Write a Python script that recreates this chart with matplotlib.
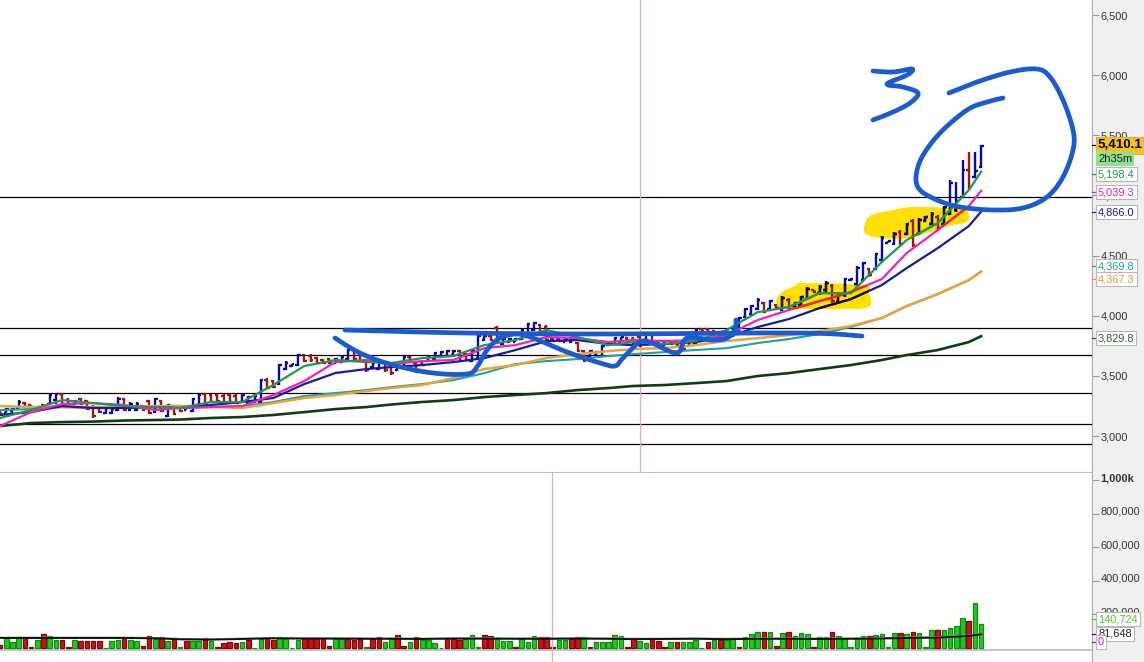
import numpy as np
import matplotlib
matplotlib.use('Agg')
from matplotlib import pyplot as plt
from matplotlib.patches import Polygon, Rectangle
from matplotlib.transforms import Affine2D, ScaledTranslation

plt.rcParams['font.family'] = ['Liberation Sans', 'DejaVu Sans']

# price bars, one entry per bar
bar_high = [3208,3233,3233,3299,3283,3258,3249,3266,3349,3357,3357,3316,3299,3316,3299,3258,3249,3241,3241,3324,
    3316,3283,3283,3258,3299,3316,3299,3266,3258,3258,3249,3316,3349,3357,3349,3349,3349,3349,3349,3349,
    3332,3349,3474,3482,3465,3598,3623,3598,3681,3681,3681,3656,3640,3648,3648,3673,3723,3723,3698,3632,
    3615,3615,3615,3590,3582,3673,3665,3615,3623,3673,3698,3706,3715,3715,3715,3690,3715,3839,3839,3839,
    3914,3814,3814,3814,3897,3939,3947,3931,3922,3814,3814,3814,3814,3781,3715,3715,3706,3756,3789,3823,
    3823,3823,3823,3831,3856,3864,3798,3798,3798,3798,3789,3798,3897,3897,3897,3881,3873,3873,3906,3989,
    4064,4089,4147,4114,4130,4097,4163,4147,4114,4163,4238,4213,4255,4288,4263,4188,4313,4313,4413,4446,
    4396,4521,4662,4620,4695,4712,4770,4803,4812,4828,4862,4837,4911,5127,5111,5294,5360,5360,5418]
bar_low = [3183,3191,3191,3233,3241,3233,3224,3233,3258,3266,3258,3258,3258,3258,3216,3150,3191,3183,3183,3208,
    3208,3208,3208,3208,3183,3191,3199,3158,3175,3199,3216,3199,3249,3249,3274,3283,3266,3274,3266,3274,
    3266,3274,3274,3391,3399,3424,3548,3573,3582,3615,3615,3598,3598,3598,3598,3607,3632,3632,3615,3532,
    3565,3548,3532,3507,3540,3573,3615,3523,3582,3615,3632,3648,3656,3665,3615,3623,3615,3632,3789,3789,
    3773,3756,3773,3781,3798,3814,3873,3839,3789,3781,3781,3781,3773,3698,3615,3648,3665,3656,3748,3756,
    3781,3781,3756,3740,3756,3756,3756,3748,3756,3748,3715,3740,3756,3864,3856,3814,3823,3823,3823,3839,
    3981,4006,4047,4022,4047,4055,4039,4055,4072,4080,4130,4188,4172,4197,4105,4105,4155,4288,4255,4280,
    4321,4379,4446,4604,4587,4587,4670,4571,4670,4778,4753,4712,4753,4837,4862,4978,5044,5144,5227]
bar_open = [3200,3195,3205,3235,3275,3255,3230,3260,3265,3300,3350,3300,3265,3310,3290,3240,3240,3190,3190,3215,
    3310,3215,3220,3250,3290,3200,3290,3170,3250,3250,3220,3210,3255,3350,3340,3340,3335,3340,3335,3280,
    3275,3280,3285,3470,3455,3435,3560,3580,3590,3670,3665,3650,3630,3640,3605,3615,3640,3715,3690,3625,
    3570,3560,3605,3580,3545,3585,3655,3605,3615,3625,3640,3655,3665,3670,3705,3680,3625,3645,3795,3830,
    3900,3765,3780,3785,3805,3825,3885,3920,3910,3810,3805,3785,3780,3770,3705,3655,3670,3665,3755,3765,
    3785,3815,3810,3820,3765,3850,3760,3755,3790,3785,3780,3750,3765,3890,3890,3875,3830,3830,3830,3850,
    3990,4015,4055,4105,4055,4090,4050,4135,4080,4090,4140,4210,4185,4210,4250,4115,4170,4295,4265,4295,
    4385,4390,4460,4606,4600,4700,4680,4790,4680,4785,4765,4825,4765,4850,4875,4990,5210,5155,5240]
bar_close = [3185,3225,3225,3285,3245,3240,3245,3240,3340,3350,3270,3265,3290,3265,3225,3170,3200,3230,3225,3310,
    3215,3270,3270,3215,3190,3305,3210,3255,3185,3210,3245,3305,3340,3260,3285,3290,3275,3285,3275,3340,
    3325,3335,3465,3400,3410,3590,3610,3595,3670,3625,3630,3605,3610,3610,3640,3660,3715,3640,3625,3545,
    3605,3605,3545,3520,3575,3660,3625,3535,3590,3660,3690,3695,3705,3705,3625,3635,3705,3830,3835,3800,
    3785,3805,3810,3810,3885,3930,3940,3850,3800,3790,3790,3810,3810,3710,3625,3705,3700,3745,3785,3815,
    3820,3790,3765,3750,3850,3765,3790,3790,3765,3760,3725,3790,3885,3870,3865,3825,3865,3865,3895,3980,
    4055,4085,4135,4035,4125,4065,4150,4070,4105,4155,4225,4195,4240,4275,4120,4175,4305,4305,4400,4440,
    4335,4510,4650,4618,4680,4600,4760,4585,4800,4820,4850,4725,4900,5100,4950,5210,5060,5200,5410]

# moving averages, read at these bars
ma_bars = [0,5,10,15,20,25,29,34,39,44,49,54,59,63,68,73,78,83,88,93,98,102,107,112,117,122,127,132,137,142,146,151,156,158]
ma_green = [3150,3216,3299,3274,3249,3241,3233,3283,3283,3424,3582,3632,3615,3607,3648,3665,3756,3798,3881,3823,3756,3781,3765,3789,3881,4030,4072,4188,4188,4446,4629,4770,5044,5198]
ma_magenta = [3083,3199,3266,3274,3258,3216,3233,3241,3249,3341,3457,3615,3632,3598,3623,3632,3731,3756,3823,3814,3781,3798,3789,3798,3839,3964,4047,4122,4197,4305,4521,4712,4911,5039]
ma_navy = [3175,3199,3249,3233,3233,3241,3233,3258,3283,3316,3432,3524,3557,3573,3590,3615,3648,3715,3789,3798,3765,3756,3765,3781,3823,3906,3972,4064,4138,4255,4396,4562,4745,4866]
ma_teal = [3216,3224,3241,3233,3233,3241,3233,3241,3249,3283,3332,3357,3382,3407,3432,3465,3523,3598,3623,3640,3665,3681,3698,3715,3731,3773,3806,3848,3906,3981,4080,4180,4296,4370]
ma_orange = [3249,3241,3241,3241,3241,3249,3249,3241,3233,3274,3316,3341,3374,3399,3424,3482,3557,3590,3648,3681,3706,3723,3731,3756,3790,3814,3839,3873,3914,3981,4080,4180,4296,4367]
ma_dark = [3083,3108,3116,3120,3129,3133,3137,3150,3158,3175,3199,3224,3241,3262,3283,3299,3324,3341,3357,3382,3399,3416,3424,3440,3457,3499,3523,3557,3590,3632,3673,3715,3781,3830]

level_lines = [4986, 3897, 3673, 3357, 3100, 2934]

# volume in thousands
volume = [16,57,38,65,58,8,48,83,71,48,48,8,48,44,44,44,44,2,44,48,60,48,44,14,73,52,67,44,61,8,44,40,44,61,44,8,30,34,30,38,
    48,2,54,61,48,67,61,2,48,61,61,61,61,14,61,61,61,48,61,8,54,67,38,61,79,
    14,38,67,48,48,32,2,61,56,48,54,77,8,77,71,61,44,44,8,54,38,71,65,65,8,46,50,61,67,65,8,38,38,38,77,71,8,61,44,32,54,44,8,38,38,38,38,48,2,38,48,48,48,61,8,67,83,95,95,95,14,89,95,71,
    91,83,8,67,67,95,71,61,8,61,71,71,79,85,8,91,91,83,95,91,8,107,107,107,119,131,179,163,268,141]
vol_dirs = ('rgggrrgrggrrgrrrrgggrggrrgrgrgrggrgrrrrgrggrrggggrrrrrggrrrgrrggr'
    'rgrggggrrrgggrrgggrgggrrrggrrgrgggggrrggrrrgrggggrgrggrgggrgrgrg'
    'ggrggrggggg'
    'rgggg'
    'rgrgggrgggg'
    'rgg')
vol_ma = [60,60,60,60,60,58,52,50,54,58,56,56,55,55,54,56,56,55,55,56,55,53,54,55,53,55,55,54,55,57,60,62,72,82]

price_ticks = [3000, 3500, 4000, 4500, 5000, 5500, 6000, 6500]
vol_ticks = [200, 400, 600, 800]

# right hand value boxes: text, height on the scale, text colour
price_boxes = [('5,198.4', 5177, '#1f9a4a'), ('5,039.3', 5028, '#e020b0'), ('4,866.0', 4861, '#1a1aa0'),
    ('4,369.8', 4413, '#20a0a0'), ('4,367.3', 4305, '#e8963a'), ('3,829.8', 3814, '#3a5a3a')]
vol_boxes = [('140,724', 171, '#44cc22'), ('81,648', 85, '#222222'), ('0', 38, '#b020c0')]

# hand drawn marks on the screenshot, in image pixels
ink_three = [(873,71),(893,72),(912,69),(907,75),(887,84),(903,87),(918,93),(910,103),(893,112),(873,120)]
ink_circle = [(949,93),(977,82),(1010,72),(1037,69),(1050,77),(1063,100),(1073,130),(1073,150),(1063,177),(1047,197),
    (1023,208),(993,210),(960,207),(937,200),(920,190),(916,177),(922,157),(940,133),(967,110),(987,102),(1003,98)]
ink_flat = [(345,330),(467,333),(600,334),(797,333),(862,336)]
ink_wave = [(335,338),(360,353),(393,365),(433,373),(467,374),(477,367),(487,350),(500,338),(517,334),(533,338),(567,352),
    (600,363),(615,366),(623,358),(640,342),(652,343),(677,353),(687,338),(713,340),(727,338),(735,330),(736,320)]
marker_low = [(776,300),(782,292),(797,285),(800,283),(863,285),(869,293),(869,307),(840,309),(807,309),(780,308)]
marker_high = [(864,227),(870,216),(893,210),(913,207),(953,208),(967,210),(967,222),(947,226),(927,233),(907,238),(880,238),(866,234)]

def smooth(pts, n=12):
    # catmull-rom through the stroke points
    p = np.array(pts, dtype=float)
    p = np.vstack([p[0], p, p[-1]])
    out = []
    for i in range(1, len(p)-2):
        for t in np.linspace(0, 1, n, endpoint=False):
            out.append(0.5*(2*p[i] + (p[i+1]-p[i-1])*t + (2*p[i-1]-5*p[i]+4*p[i+1]-p[i+2])*t*t
                + (3*p[i]-p[i-1]-3*p[i+1]+p[i+2])*t*t*t))
    out.append(p[-2])
    return np.array(out)

fig = plt.figure(figsize=(11.44, 6.62), dpi=100, facecolor='white')
fig.patches.append(Rectangle((1092/1144, 0), 52/1144, 1, transform=fig.transFigure, facecolor='#f0f0f0', edgecolor='none', zorder=-5))
ax = fig.add_axes([0, 190/662, 1092/1144, 472/662])
vax = fig.add_axes([0, 0, 1092/1144, 189/662], sharex=ax)
for a in (ax, vax):
    for s in ('top', 'left'):
        a.spines[s].set_visible(False)
    a.spines['right'].set_color('#aaaaaa')
    a.spines['bottom'].set_color('#e3b0b0')
    a.yaxis.tick_right()
    a.tick_params(axis='y', length=5, color='#999999', labelsize=7.9, labelcolor='#333333', pad=1)
    a.tick_params(axis='x', length=0, labelbottom=False)

pix = Affine2D().scale(1, -1).translate(0, 662)
n = len(bar_close)
bars = np.arange(n)
ax.set_xlim(0, 1092/6.21)
ax.set_ylim(2701, 6625)
vax.set_ylim(-83, 1042)

low_patch = Polygon(smooth(marker_low + marker_low[:1]), closed=True, transform=pix, facecolor='#ffe000', edgecolor='none', zorder=1)
high_patch = Polygon(smooth(marker_high + marker_high[:1]), closed=True, transform=pix, facecolor='#ffe000', edgecolor='none', zorder=1)
ax.add_patch(low_patch)
ax.add_patch(high_patch)

for lvl in level_lines:
    ax.axhline(lvl, color='black', lw=0.9, zorder=2)
ax.axvline(640/6.21, color='#eda8a8', lw=0.9, zorder=2)
vax.axvline(552/6.21, color='#eda8a8', lw=0.9, zorder=3)
vax.axhline(-12, color='#bbbbbb', lw=1.2, zorder=1)

def draw_bars(color, mask, clip=None):
    items = [
        ax.vlines(bars[mask], np.array(bar_low)[mask], np.array(bar_high)[mask], color=color, lw=1.7, zorder=3),
        ax.hlines(np.array(bar_open)[mask], bars[mask]-0.42, bars[mask], color=color, lw=1.7, zorder=3),
        ax.hlines(np.array(bar_close)[mask], bars[mask], bars[mask]+0.42, color=color, lw=1.7, zorder=3),
    ]
    if clip is not None:
        for it in items:
            it.set_zorder(3.5)
            it.set_clip_path(clip)

up = np.array(bar_close) >= np.array(bar_open)
draw_bars('#0808a8', up)
draw_bars('#a01414', ~up)

ma_series = [(ma_dark, '#0f3d14', 1.9), (ma_teal, '#20a0a0', 1.5), (ma_orange, '#e8a33a', 1.8),
    (ma_navy, '#1a1aa0', 1.6), (ma_magenta, '#f020c0', 1.6), (ma_green, '#1f9a4a', 1.6)]
for vals, col, lw in ma_series:
    ax.plot(ma_bars, vals, color=col, lw=lw, zorder=4, solid_joinstyle='round')

# what the yellow marker does to the ink underneath
for patch in (low_patch, high_patch):
    draw_bars('#101010', up, clip=patch)
    for vals, col, lw in [(ma_navy, '#101010', 1.6), (ma_magenta, '#ee2a12', 1.6), (ma_green, '#1f9a4a', 1.6)]:
        ln, = ax.plot(ma_bars, vals, color=col, lw=lw, zorder=4.5)
        ln.set_clip_path(patch)

for stroke in (ink_three, ink_circle, ink_flat, ink_wave):
    pts = smooth(stroke)
    ax.plot(pts[:,0], pts[:,1], color='#1a5ad2', lw=3.4, transform=pix, zorder=6,
            solid_capstyle='round', solid_joinstyle='round', clip_on=False)

vol_colors = ['#20c820' if d == 'g' else '#cc1212' for d in vol_dirs]
vol_edges = ['#128a12' if d == 'g' else '#7c0a0a' for d in vol_dirs]
vax.bar(bars, volume, width=0.74, color=vol_colors, edgecolor=vol_edges, linewidth=0.9, zorder=2)
vax.plot(ma_bars, np.array(vol_ma)+4, color='#999999', lw=1.0, zorder=3)
vax.plot(ma_bars, vol_ma, color='#111111', lw=1.4, zorder=4)

ax.set_yticks(price_ticks)
ax.set_yticklabels([f'{t:,}' for t in price_ticks])
vax.set_yticks([1000] + vol_ticks)
vax.set_yticklabels(['1,000k'] + [f'{t*1000:,}' for t in vol_ticks])
vax.get_yticklabels()[0].set_fontweight('bold')
# the volume scale labels sit a little above their ticks in the screenshot
for lbl in vax.get_yticklabels():
    lbl.set_transform(lbl.get_transform() + ScaledTranslation(0, 3/100, fig.dpi_scale_trans))

def value_box(a, txt, y, col, face='white', edge='#b8b8b8', weight='normal', size=7.9):
    a.text(1.0055, y, txt, transform=a.get_yaxis_transform(), color=col, fontsize=size, fontweight=weight,
           va='center', ha='left', zorder=10, clip_on=False,
           bbox=dict(boxstyle='square,pad=0.18', facecolor=face, edgecolor=edge, linewidth=0.8))
    a.plot([1.0, 1.004], [y, y], transform=a.get_yaxis_transform(), color=col, lw=0.9, clip_on=False, zorder=9)

value_box(ax, '5,410.1', 5418, 'black', face='#f6c21c', edge='#d8b040', weight='bold', size=9.6)
ax.text(1.0055, 5300, '2h35m', transform=ax.get_yaxis_transform(), color='#222222', fontsize=8, va='center', ha='left',
        zorder=10, clip_on=False, bbox=dict(boxstyle='square,pad=0.18', facecolor='#8fe08f', edgecolor='none'))
for txt, y, col in price_boxes:
    value_box(ax, txt, y, col)
for txt, y, col in vol_boxes:
    value_box(vax, txt, y, col)

fig.savefig('out.png', dpi=100)
print(n, len(volume), len(vol_dirs))
